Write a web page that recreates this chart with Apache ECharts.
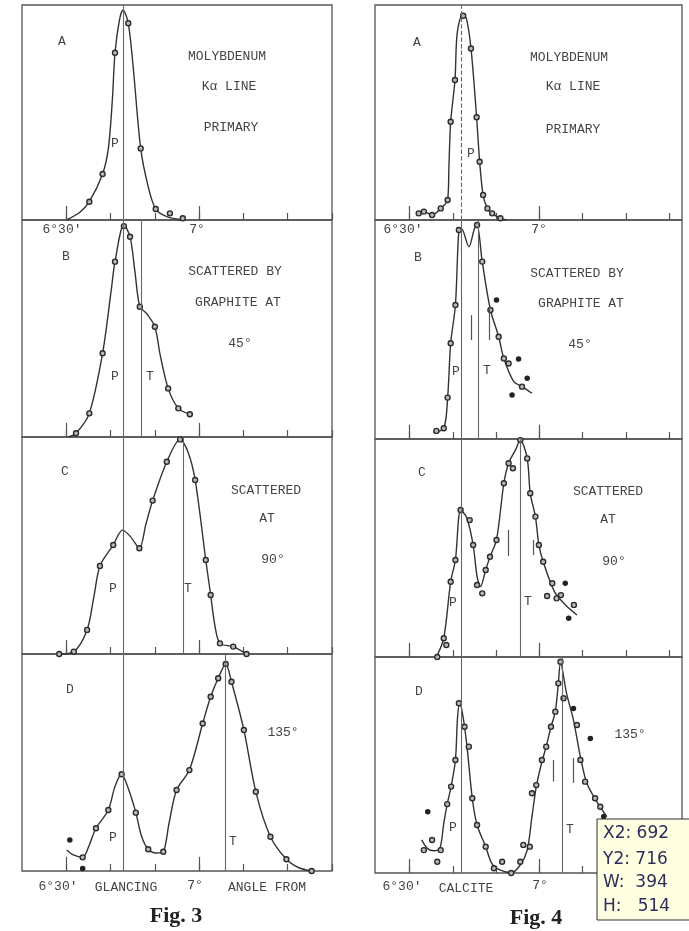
<!DOCTYPE html>
<html><head><meta charset="utf-8">
<script src="https://cdn.jsdelivr.net/npm/echarts@6/dist/echarts.min.js"></script>
<style>html,body{margin:0;padding:0;background:#fff}#c{width:689px;height:931px}</style>
</head><body><div id="c"></div>
<script>
// x values: minutes of arc past 6°; y values: relative ionization (panel height = 1)
const tickValues = [30, 40, 50, 60, 70, 80, 90];
const longTickValues = [30, 60];

// ---- Fig. 3 ----
const fig3A_curve = [[30,0],[33,0.035],[35.2,0.085],[38.2,0.214],[39.5,0.333],[40.4,0.558],[41.0,0.778],[42.0,0.93],[42.8,0.977],[44.0,0.915],[45.1,0.713],[46.8,0.333],[48.5,0.155],[50.2,0.051],[52.7,0.016],[56.4,0]];
const fig3A_points = [[35.2,0.085],[38.2,0.214],[41.0,0.778],[44.0,0.915],[46.8,0.333],[50.2,0.051],[53.4,0.031],[56.3,0.008]];
const fig3A_outliers = [];
const fig3B_curve = [[30.5,0],[32.2,0.017],[35.2,0.109],[38.2,0.386],[40.2,0.685],[41.0,0.808],[43.0,0.977],[44.4,0.923],[45.5,0.762],[46.6,0.600],[48.1,0.57],[50.0,0.508],[51.2,0.378],[53.0,0.224],[55.3,0.132],[57.9,0.105]];
const fig3B_points = [[32.2,0.017],[35.2,0.109],[38.2,0.386],[41.0,0.808],[43.0,0.972],[44.4,0.923],[46.6,0.600],[50.0,0.508],[53.0,0.224],[55.3,0.132],[57.9,0.105]];
const fig3B_outliers = [];
const fig3C_curve = [[28.4,0],[31.7,0.011],[34.7,0.111],[36.2,0.26],[37.6,0.406],[40.6,0.502],[42.7,0.571],[44.5,0.541],[46.5,0.487],[48.0,0.6],[49.5,0.707],[52.7,0.886],[55.7,0.989],[57.5,0.93],[59.1,0.802],[61.5,0.433],[62.6,0.272],[63.6,0.126],[64.7,0.049],[67.7,0.034],[70.7,0]];
const fig3C_points = [[28.4,0],[31.7,0.011],[34.7,0.111],[37.6,0.406],[40.6,0.502],[46.5,0.487],[49.5,0.707],[52.7,0.886],[55.7,0.989],[59.1,0.802],[61.5,0.433],[62.6,0.272],[64.7,0.049],[67.7,0.034],[70.7,0]];
const fig3C_outliers = [];
const fig3D_curve = [[30.1,0.097],[31.6,0.074],[33.7,0.063],[35.2,0.12],[36.7,0.197],[39.5,0.281],[41.0,0.39],[42.5,0.446],[44.0,0.38],[45.7,0.269],[47.0,0.16],[48.5,0.1],[50.3,0.083],[51.9,0.089],[53.2,0.22],[54.9,0.373],[57.8,0.465],[60.8,0.680],[62.6,0.803],[64.3,0.888],[66.0,0.954],[67.3,0.872],[70.1,0.650],[72.8,0.365],[76.1,0.158],[79.7,0.054],[82.5,0.015],[85.4,0]];
const fig3D_points = [[33.7,0.063],[36.7,0.197],[39.5,0.281],[42.5,0.446],[45.7,0.269],[48.5,0.1],[51.9,0.089],[54.9,0.373],[57.8,0.465],[60.8,0.680],[62.6,0.803],[64.3,0.888],[66.0,0.954],[67.3,0.872],[70.1,0.650],[72.8,0.365],[76.1,0.158],[79.7,0.054],[85.4,0]];
const fig3D_outliers = [[30.8,0.143],[33.7,0.012]];
const fig3_P = 42.8;
const fig3_T = [null, 46.9, 56.3, 66.0];

// ---- Fig. 4 ----
const fig4A_curve = [[32.1,0.031],[33.3,0.039],[35.2,0.023],[37.2,0.054],[38.8,0.093],[39.1,0.25],[39.5,0.457],[40.5,0.651],[41.0,0.868],[42.2,0.953],[43.1,0.94],[44.2,0.798],[45.5,0.478],[46.2,0.271],[47.0,0.116],[48.0,0.054],[49.1,0.031],[51.0,0.008],[52.5,0]];
const fig4A_points = [[32.1,0.031],[33.3,0.039],[35.2,0.023],[37.2,0.054],[38.8,0.093],[39.5,0.457],[40.5,0.651],[42.4,0.95],[44.2,0.798],[45.5,0.478],[46.2,0.271],[47.0,0.116],[48.0,0.054],[49.1,0.031],[51.0,0.008]];
const fig4A_outliers = [];
const fig4B_curve = [[35.5,0.03],[37.9,0.049],[38.8,0.189],[39.5,0.437],[40.6,0.612],[41.4,0.954],[42.0,0.96],[43.7,0.878],[45.0,0.96],[45.6,0.977],[46.8,0.81],[48.7,0.589],[50.6,0.467],[51.8,0.368],[54.1,0.262],[56.0,0.239],[58.3,0.209]];
const fig4B_points = [[36.2,0.037],[37.9,0.049],[38.8,0.189],[39.5,0.437],[40.6,0.612],[41.4,0.954],[45.6,0.977],[46.8,0.81],[48.7,0.589],[50.6,0.467],[51.8,0.368],[52.9,0.345],[56.0,0.239]];
const fig4B_outliers = [[50.1,0.635],[55.2,0.365],[57.2,0.277],[53.7,0.201]];
const fig4C_curve = [[36.2,0],[37.9,0.086],[39.5,0.345],[40.6,0.445],[41.8,0.674],[43.2,0.64],[44.7,0.514],[45.6,0.37],[46.4,0.323],[47.6,0.399],[48.6,0.46],[50.1,0.537],[51.8,0.797],[52.9,0.889],[54.5,0.95],[55.6,0.995],[57.2,0.911],[57.9,0.751],[59.1,0.644],[59.9,0.514],[60.9,0.437],[63.5,0.3],[66.0,0.24],[68.7,0.193]];
const fig4C_points = [[36.4,0],[37.9,0.086],[38.5,0.055],[39.5,0.345],[40.6,0.445],[41.8,0.674],[43.9,0.628],[44.7,0.514],[45.6,0.330],[46.8,0.292],[47.6,0.399],[48.6,0.46],[50.1,0.537],[51.8,0.797],[52.9,0.889],[53.9,0.866],[55.6,0.995],[57.2,0.911],[57.9,0.751],[59.1,0.644],[59.9,0.514],[60.9,0.437],[61.8,0.28],[63.0,0.338],[64.0,0.269],[65.0,0.284],[68.0,0.239]];
const fig4C_outliers = [[66.0,0.338],[66.8,0.178]];
const fig4D_curve = [[32.8,0.153],[34.1,0.114],[35.6,0.103],[37.0,0.114],[37.9,0.23],[38.7,0.319],[39.6,0.40],[40.6,0.523],[41.1,0.724],[41.6,0.786],[42.3,0.731],[43.2,0.60],[44.5,0.346],[45.6,0.222],[47.6,0.122],[49.0,0.045],[50.9,0.014],[53.5,0.001],[55.6,0.037],[57.2,0.106],[58.3,0.261],[59.3,0.40],[60.6,0.515],[61.6,0.585],[62.7,0.677],[63.7,0.747],[64.4,0.878],[64.9,0.974],[66.3,0.832],[67.9,0.708],[69.5,0.538],[71.0,0.415],[73.3,0.33],[75.6,0.261]];
const fig4D_points = [[33.3,0.106],[35.2,0.153],[37.2,0.106],[36.4,0.052],[38.7,0.319],[39.6,0.40],[40.6,0.523],[41.4,0.786],[42.7,0.677],[43.7,0.585],[44.5,0.346],[45.6,0.222],[47.6,0.122],[49.5,0.022],[51.4,0.052],[53.5,0.0],[55.6,0.052],[56.3,0.13],[57.8,0.122],[58.3,0.369],[59.3,0.407],[60.6,0.523],[61.6,0.585],[62.7,0.677],[63.7,0.747],[64.4,0.878],[64.9,0.978],[65.6,0.809],[68.7,0.685],[69.5,0.523],[70.6,0.423],[72.9,0.346],[74.1,0.307]];
const fig4D_outliers = [[34.2,0.284],[67.9,0.762],[71.8,0.623],[74.9,0.261]];
const fig4_P = 42.0;
const fig4_T = [null, 45.9, 55.6, 65.2];
// short vertical marks on Fig. 4 (x, y from, y to)
const fig4_marks = [[], [[44.2,0.452,0.566],[48.5,0.452,0.604]], [[52.8,0.463,0.583],[58.5,0.468,0.537]], [[63.3,0.423,0.523],[67.8,0.417,0.532]]];

// ---------- layout ----------
const figs = [
  {left: 22, width: 310, min: 20, max: 90, tops: [5,220,437,654], heights: [215,217,217,217],
   curves: [fig3A_curve, fig3B_curve, fig3C_curve, fig3D_curve],
   points: [fig3A_points, fig3B_points, fig3C_points, fig3D_points],
   outliers: [fig3A_outliers, fig3B_outliers, fig3C_outliers, fig3D_outliers],
   P: fig3_P, T: fig3_T, marks: [[],[],[],[]]},
  {left: 375, width: 307, min: 22, max: 93, tops: [5,220,439,657], heights: [215,219,218,216],
   curves: [fig4A_curve, fig4B_curve, fig4C_curve, fig4D_curve],
   points: [fig4A_points, fig4B_points, fig4C_points, fig4D_points],
   outliers: [fig4A_outliers, fig4B_outliers, fig4C_outliers, fig4D_outliers],
   P: fig4_P, T: fig4_T, marks: fig4_marks}
];

const INK = '#333';
const grids = [], xAxes = [], yAxes = [], series = [];
figs.forEach((f, fi) => {
  for (let p = 0; p < 4; p++) {
    const idx = grids.length;
    grids.push({left: f.left, top: f.tops[p], width: f.width, height: f.heights[p],
      show: true, borderColor: '#555', borderWidth: 1.3, backgroundColor: 'transparent',
      containLabel: false, outerBoundsMode: 'none'});
    xAxes.push({gridIndex: idx, type: 'value', min: f.min, max: f.max,
      axisLine: {show: false}, splitLine: {show: false},
      axisTick: {show: true, inside: true, length: 7, customValues: tickValues, lineStyle: {color: '#555', width: 1.2}},
      axisLabel: {show: false}});
    yAxes.push({gridIndex: idx, type: 'value', min: 0, max: 1, show: false});
    const ml = [];
    ml.push({xAxis: f.P, lineStyle: {color: '#666', width: 1.1, type: (fi === 1 && p === 0) ? 'dashed' : 'solid'}});
    if (f.T[p] !== null) ml.push({xAxis: f.T[p], lineStyle: {color: '#666', width: 1.1}});
    longTickValues.forEach(v => ml.push([{coord: [v, 0]}, {coord: [v, 0.065]}]));
    f.marks[p].forEach(m => ml.push([{coord: [m[0], m[1]]}, {coord: [m[0], m[2]]}]));
    series.push({type: 'line', xAxisIndex: idx, yAxisIndex: idx, data: f.curves[p],
      smooth: 0.3, symbol: 'none', clip: false, lineStyle: {color: INK, width: 1.4}, z: 2,
      markLine: {symbol: 'none', silent: true, label: {show: false}, animation: false,
        lineStyle: {color: '#555', width: 1.2, type: 'solid'}, data: ml}});
    series.push({type: 'scatter', xAxisIndex: idx, yAxisIndex: idx, data: f.points[p],
      symbolSize: 5, clip: false, itemStyle: {color: '#b8b8b8', borderColor: '#2a2a2a', borderWidth: 1.4, opacity: 1}, z: 3});
    if (f.outliers[p].length)
      series.push({type: 'scatter', xAxisIndex: idx, yAxisIndex: idx, data: f.outliers[p],
        symbolSize: 5.5, clip: false, itemStyle: {color: '#222', opacity: 1}, z: 3});
  }
});

// ---------- texts ----------
const MONO = 'Liberation Mono';
const labels = [
  ['A',62,42],['MOLYBDENUM',227,57],['K\u03b1 LINE',229,87],['PRIMARY',231,128],['P',115,144],
  ['B',66,257],['SCATTERED BY',235,272],['GRAPHITE AT',238,303],['45°',240,344],['P',115,377],['T',150,377],
  ['C',65,472],['SCATTERED',266,491],['AT',267,519],['90°',273,560],['P',113,589],['T',188,589],
  ['D',70,690],['135°',283,733],['P',113,838],['T',233,842],
  ["6°30'",62,230],['7°',197,230],
  ["6°30'",58,887],['GLANCING',126,888],['7°',195,886],['ANGLE FROM',267,888],
  ['A',417,43],['MOLYBDENUM',569,58],['K\u03b1 LINE',573,87],['PRIMARY',573,130],['P',471,154],
  ['B',418,258],['SCATTERED BY',577,274],['GRAPHITE AT',581,304],['45°',580,345],['P',456,372],['T',487,371],
  ['C',422,473],['SCATTERED',608,492],['AT',608,520],['90°',614,562],['P',453,603],['T',528,602],
  ['D',419,692],['135°',630,735],['P',453,828],['T',570,830],
  ["6°30'",403,230],['7°',539,230],
  ["6°30'",402,887],['CALCITE',466,889],['7°',540,886]
];
const graphic = labels.map(l => ({type: 'text', x: l[1], y: l[2], z: 10,
  style: {text: l[0], fontFamily: MONO, fontSize: 13, fill: '#444', align: 'center', verticalAlign: 'middle'}}));
graphic.push({type: 'text', x: 176, y: 916, z: 10, style: {text: 'Fig. 3', fontFamily: 'Liberation Serif', fontWeight: 'bold', fontSize: 22, fill: '#222', align: 'center', verticalAlign: 'middle'}});
graphic.push({type: 'text', x: 536, y: 918, z: 10, style: {text: 'Fig. 4', fontFamily: 'Liberation Serif', fontWeight: 'bold', fontSize: 22, fill: '#222', align: 'center', verticalAlign: 'middle'}});
// screenshot measuring-tool box
graphic.push({type: 'rect', z: 20, shape: {x: 597, y: 819, width: 100, height: 101}, style: {fill: '#ffffe1', stroke: '#333', lineWidth: 1}});
[['X2: 692',834],['Y2: 716',860],['W:  394',883],['H:   514',907]].forEach(t => graphic.push({type: 'text', z: 21, x: 603, y: t[1],
  style: {text: t[0], fontFamily: 'DejaVu Sans', fontSize: 17, fill: '#2e2e5c', align: 'left', verticalAlign: 'middle'}}));

const chart = echarts.init(document.getElementById('c'), null, {renderer: 'canvas'});
chart.setOption({animation: false, backgroundColor: '#ffffff', grid: grids, xAxis: xAxes, yAxis: yAxes, series: series, graphic: graphic});
</script></body></html>
